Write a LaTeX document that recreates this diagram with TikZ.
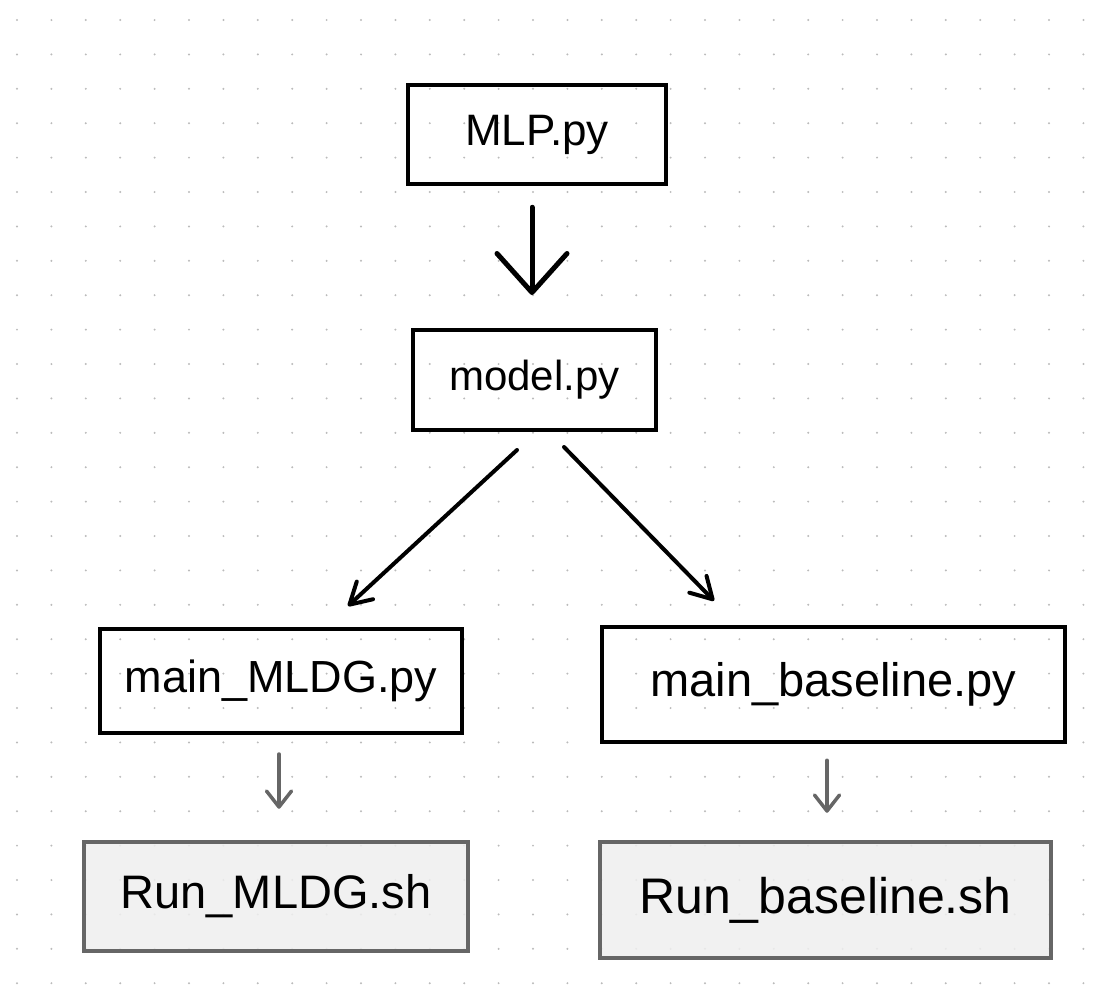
\documentclass[tikz,border=0pt]{standalone}
\usepackage{fontspec}
\setmainfont{Liberation Sans}
\usetikzlibrary{arrows.meta}

\definecolor{dotGray}{HTML}{BBBBBB}
\definecolor{runGray}{HTML}{666666}
\definecolor{runFill}{HTML}{EFEFEF}

\providecommand*{\xMin}{}
\providecommand*{\yMin}{}
\providecommand*{\gridStep}{}
\renewcommand*{\xMin}{17}
\renewcommand*{\yMin}{20}
\renewcommand*{\gridStep}{34.4}

\begin{document}
\begin{tikzpicture}[x=1pt,y=-1pt,
    filebox/.style={draw=black,line width=4pt,inner sep=0pt},
    runbox/.style={filebox,draw=runGray,line width=4.5pt,fill=runFill,fill opacity=0.85,text opacity=1},
    bigarrow/.style={line width=5pt,line cap=round,-{Straight Barb[length=39pt,width=70pt,round]}},
    midarrow/.style={line width=4pt,line cap=round,-{Straight Barb[length=21pt,width=24pt,round]}},
    smallarrow/.style={draw=runGray,line width=3.5pt,line cap=round,-{Straight Barb[length=16pt,width=25pt,round]}}]
  \useasboundingbox (0,0) rectangle (1108,999);
  \foreach \i in {0,...,28} {
    \foreach \j in {0,...,31} {
      \fill [dotGray] (\xMin + \j*\gridStep,\yMin + \i*\gridStep) circle (1.1pt);
    }
  }
  \node [filebox,line width=4.5pt,minimum width=258pt,minimum height=99pt,font=\fontsize{44}{48}\selectfont] (mlp) at (537,134.5) {MLP.py};
  \node [filebox,minimum width=243pt,minimum height=100pt,font=\fontsize{42}{46}\selectfont] (model) at (534.5,380) {model.py};
  \node [filebox,minimum width=362pt,minimum height=104pt,font=\fontsize{45}{50}\selectfont] (mldg) at (281,681) {main\_MLDG.py};
  \node [filebox,line width=4.5pt,minimum width=463pt,minimum height=115pt,font=\fontsize{47}{52}\selectfont] (baseline) at (833.5,684.5) {main\_baseline.py};
  \node [runbox,minimum width=384pt,minimum height=109pt,font=\fontsize{47}{52}\selectfont] (runmldg) at (276,896.5) {Run\_MLDG.sh};
  \node [runbox,minimum width=451pt,minimum height=116pt,font=\fontsize{50}{55}\selectfont] (runbase) at (825.5,900) {Run\_baseline.sh};
  \draw [bigarrow,shorten <=21pt,shorten >=33pt] ([xshift=-5pt]mlp.south) -- ([xshift=-2.5pt]model.north);
  \draw [midarrow] ([xshift=-17.5pt,yshift=-18pt]model.south) -- ([xshift=67pt,yshift=21pt]mldg.north);
  \draw [midarrow] ([xshift=29.5pt,yshift=-15pt]model.south) -- ([xshift=-119.5pt,yshift=24pt]baseline.north);
  \draw [smallarrow] ([xshift=-2pt,yshift=-19pt]mldg.south) -- ([xshift=3pt,yshift=31pt]runmldg.north);
  \draw [smallarrow] ([xshift=-6.5pt,yshift=-16pt]baseline.south) -- ([xshift=1.5pt,yshift=27pt]runbase.north);
\end{tikzpicture}
\end{document}
